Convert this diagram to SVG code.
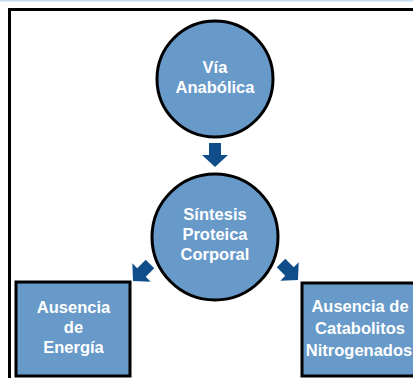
<svg xmlns="http://www.w3.org/2000/svg" width="413" height="378" viewBox="0 0 413 378">
  <style>
    .node { fill: #6799c9; stroke: #000; stroke-width: 3; }
    .lbl { font-family: "Liberation Sans", Arial, sans-serif; font-weight: bold; font-size: 16.5px; fill: #fff; text-anchor: middle; }
    .arrow { fill: #0f4e8a; }
  </style>
  <defs>
    <path id="arr" d="M -6 -12 L 6 -12 L 6 0 L 13 0 L 0 12 L -13 0 L -6 0 Z"/>
  </defs>
  <rect x="0" y="0" width="413" height="1.5" fill="#c5daef"/>
  <rect x="9.5" y="9.5" width="420" height="400" fill="#fff" stroke="#000" stroke-width="3"/>

  <g id="connectors" class="arrow">
    <use href="#arr" transform="translate(215,155)"/>
    <use href="#arr" transform="translate(141.5,272.5) rotate(45)"/>
    <use href="#arr" transform="translate(289.5,271.5) rotate(-45)"/>
  </g>

  <g id="via-anabolica">
    <circle class="node" cx="215" cy="79" r="58"/>
    <text class="lbl" x="215" y="73">Vía</text>
    <text class="lbl" x="215" y="93">Anabólica</text>
  </g>

  <g id="sintesis-proteica">
    <circle class="node" cx="215" cy="237" r="63"/>
    <text class="lbl" x="215" y="220">Síntesis</text>
    <text class="lbl" x="215" y="240">Proteica</text>
    <text class="lbl" x="215" y="260">Corporal</text>
  </g>

  <g id="ausencia-energia">
    <rect class="node" x="16" y="282" width="114" height="94"/>
    <text class="lbl" x="73.5" y="312.5">Ausencia</text>
    <text class="lbl" x="73.5" y="332.5">de</text>
    <text class="lbl" x="73.5" y="352.5">Energía</text>
  </g>

  <g id="ausencia-catabolitos">
    <rect class="node" x="302" y="283" width="114" height="93"/>
    <text class="lbl" x="360" y="312">Ausencia de</text>
    <text class="lbl" x="360" y="334">Catabolitos</text>
    <text class="lbl" x="359" y="356">Nitrogenados</text>
  </g>
</svg>
